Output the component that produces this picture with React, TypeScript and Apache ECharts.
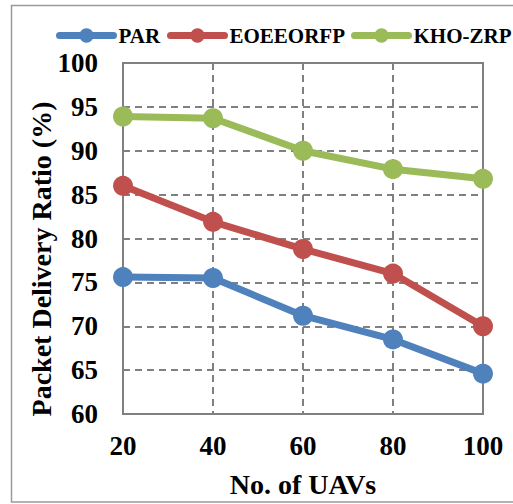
import React, { useEffect, useRef } from "react";
import * as echarts from "echarts";

const categories = ["20", "40", "60", "80", "100"];
const parValues = [75.6, 75.5, 71.2, 68.5, 64.6];
const eoeeorfpValues = [86.0, 81.9, 78.8, 76.0, 70.0];
const khoZrpValues = [93.9, 93.7, 90.0, 87.9, 86.8];
const seriesNames = ["PAR", "EOEEORFP", "KHO-ZRP"];
const colors = ["#4F81BD", "#C0504D", "#9BBB59"];
const legendLefts = [56, 167, 351];

const FONT = "'Liberation Serif', 'Times New Roman', serif";
const GRAY = "#808080";

export default function App() {
  const ref = useRef<HTMLDivElement>(null);
  useEffect(() => {
    if (!ref.current) return;
    const chart = echarts.init(ref.current, undefined, { renderer: "svg" });
    const mk = (name: string, data: number[], color: string) => ({
      name,
      type: "line",
      data,
      color,
      symbol: "circle",
      symbolSize: 20,
      lineStyle: { width: 7, color },
      itemStyle: { color },
    });
    chart.setOption({
      animation: false,
      textStyle: { fontFamily: FONT },
      graphic: [
        {
          type: "rect",
          shape: { x: 11.5, y: 5.5, width: 600, height: 496.5 },
          style: { fill: "none", stroke: "#9a9a9a", lineWidth: 1.5 },
          silent: true,
        },
        {
          type: "text",
          x: 41,
          y: 259,
          rotation: Math.PI / 2,
          style: {
            text: "Packet Delivery Ratio (%)",
            fontFamily: FONT,
            fontWeight: "bold",
            fontSize: 28,
            fill: "#000",
            textAlign: "center",
            textVerticalAlign: "middle",
          },
        },
      ],
      legend: seriesNames.map((n, i) => ({
        left: legendLefts[i],
        top: 25,
        padding: 0,
        itemWidth: 54,
        itemHeight: 18,
        data: [n],
        lineStyle: { width: 7, cap: "round" },
        textStyle: { fontFamily: FONT, fontWeight: "bold", fontSize: 21, color: "#000" },
      })),
      grid: {
        left: 123,
        right: 30,
        top: 63,
        bottom: 90,
        show: true,
        borderColor: GRAY,
        borderWidth: 2,
      },
      xAxis: {
        type: "category",
        data: categories,
        boundaryGap: false,
        name: "No. of UAVs",
        nameLocation: "middle",
        nameGap: 56,
        nameTextStyle: { fontFamily: FONT, fontWeight: "bold", fontSize: 28, color: "#000" },
        axisLine: { lineStyle: { color: GRAY, width: 2 } },
        axisTick: { show: false },
        axisLabel: { margin: 18, fontFamily: FONT, fontWeight: "bold", fontSize: 27, color: "#000" },
        splitLine: { show: true, lineStyle: { color: GRAY, width: 2, type: [7, 5] } },
      },
      yAxis: {
        type: "value",
        min: 60,
        max: 100,
        interval: 5,
        axisLine: { show: true, lineStyle: { color: GRAY, width: 2 } },
        axisTick: { show: false },
        axisLabel: { margin: 25, fontFamily: FONT, fontWeight: "bold", fontSize: 27, color: "#000" },
        splitLine: { show: true, lineStyle: { color: GRAY, width: 2, type: [7, 5] } },
      },
      series: [
        mk(seriesNames[0], parValues, colors[0]),
        mk(seriesNames[1], eoeeorfpValues, colors[1]),
        mk(seriesNames[2], khoZrpValues, colors[2]),
      ],
    });
    return () => chart.dispose();
  }, []);
  return (
    <div
      ref={ref}
      style={{ position: "absolute", left: 0, top: 0, width: 513, height: 504, background: "#fff" }}
    />
  );
}
